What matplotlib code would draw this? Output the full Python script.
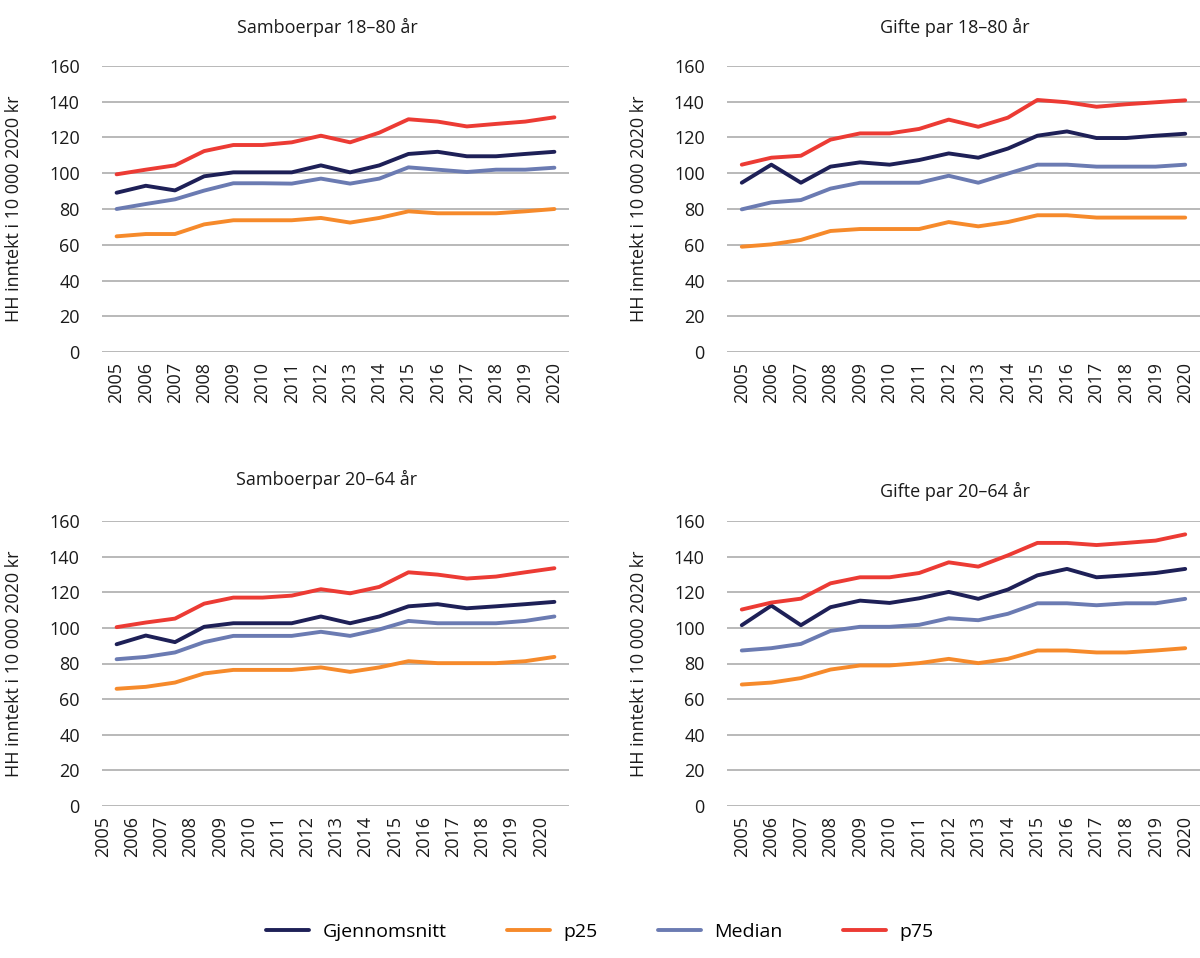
import matplotlib
matplotlib.use("Agg")
from matplotlib import pyplot as plt

years = list(range(2005, 2021))

# Samboerpar 18-80 år
sb1880_mean = [89.1, 93.0, 90.4, 98.3, 100.5, 100.5, 100.5, 104.4, 100.5, 104.4, 110.8, 112.0, 109.5, 109.5, 110.8, 112.0]
sb1880_p25 = [64.7, 66.0, 66.0, 71.4, 73.7, 73.7, 73.7, 75.0, 72.4, 75.0, 78.7, 77.6, 77.6, 77.6, 78.7, 80.0]
sb1880_median = [80.0, 82.8, 85.4, 90.3, 94.4, 94.4, 94.2, 97.0, 94.2, 97.0, 103.3, 102.0, 100.7, 102.0, 102.0, 103.1]
sb1880_p75 = [99.4, 102.0, 104.4, 112.4, 115.8, 115.8, 117.3, 121.0, 117.3, 122.7, 130.2, 128.9, 126.2, 127.6, 128.9, 131.3]

# Gifte par 18-80 år
gp1880_mean = [94.7, 104.8, 94.7, 103.7, 106.1, 104.8, 107.4, 111.1, 108.7, 113.8, 121.0, 123.4, 119.7, 119.7, 121.0, 122.1]
gp1880_p25 = [58.9, 60.2, 62.7, 67.7, 68.8, 68.8, 68.8, 72.7, 70.3, 72.7, 76.5, 76.5, 75.2, 75.2, 75.2, 75.2]
gp1880_median = [79.8, 83.7, 85.0, 91.4, 94.7, 94.7, 94.7, 98.6, 94.7, 99.8, 104.8, 104.8, 103.7, 103.7, 103.7, 104.8]
gp1880_p75 = [104.8, 108.7, 109.8, 118.8, 122.3, 122.3, 124.8, 130.0, 126.0, 131.1, 141.0, 139.7, 137.2, 138.6, 139.7, 140.8]

# Samboerpar 20-64 år
sb2064_mean = [90.8, 95.7, 92.0, 100.6, 102.6, 102.6, 102.6, 106.4, 102.6, 106.4, 112.1, 113.3, 111.0, 112.1, 113.3, 114.6]
sb2064_p25 = [65.8, 66.9, 69.3, 74.4, 76.4, 76.4, 76.4, 77.8, 75.3, 77.8, 81.3, 80.2, 80.2, 80.2, 81.3, 83.7]
sb2064_median = [82.4, 83.7, 86.2, 92.0, 95.5, 95.5, 95.5, 97.8, 95.5, 99.1, 103.9, 102.6, 102.6, 102.6, 103.9, 106.4]
sb2064_p75 = [100.4, 103.0, 105.2, 113.6, 117.0, 117.0, 118.1, 121.7, 119.4, 123.0, 131.2, 129.9, 127.7, 128.8, 131.2, 133.5]

# Gifte par 20-64 år
gp2064_mean = [101.5, 112.5, 101.5, 111.6, 115.3, 114.0, 116.6, 120.2, 116.3, 121.5, 129.5, 133.1, 128.4, 129.5, 130.8, 133.1]
gp2064_p25 = [68.2, 69.3, 71.8, 76.6, 78.9, 78.9, 80.2, 82.6, 80.2, 82.6, 87.3, 87.3, 86.2, 86.2, 87.3, 88.6]
gp2064_median = [87.3, 88.6, 91.0, 98.3, 100.6, 100.6, 101.7, 105.4, 104.3, 107.9, 113.8, 113.8, 112.7, 113.8, 113.8, 116.3]
gp2064_p75 = [110.3, 114.2, 116.4, 125.0, 128.4, 128.4, 130.8, 136.8, 134.4, 140.7, 147.7, 147.7, 146.5, 147.7, 149.0, 152.5]

series_names = ['Gjennomsnitt', 'p25', 'Median', 'p75']
colors = ['#1e2057', '#f68a2b', '#6b7bb2', '#ec3b34']

plt.rcParams['font.family'] = ['Open Sans', 'DejaVu Sans']

fig = plt.figure(figsize=(12, 9.58), dpi=100)
W, H = 1200, 958

# (title, data, axes box in px [x0, y0, x1, y1], title x, title baseline y, label shift)
panels = [
    ('Samboerpar 18–80 år', [sb1880_mean, sb1880_p25, sb1880_median, sb1880_p75],
     [102, 66, 569, 352], 327, 33, 0.0),
    ('Gifte par 18–80 år', [gp1880_mean, gp1880_p25, gp1880_median, gp1880_p75],
     [727, 66, 1200, 352], 955, 33, 0.0),
    ('Samboerpar 20–64 år', [sb2064_mean, sb2064_p25, sb2064_median, sb2064_p75],
     [102, 521, 569, 806], 327, 485, -0.47),
    ('Gifte par 20–64 år', [gp2064_mean, gp2064_p25, gp2064_median, gp2064_p75],
     [727, 521, 1200, 806], 955, 497, 0.0),
]

for title, data, box, tx, ty, shift in panels:
    x0, y0, x1, y1 = box
    ax = fig.add_axes([x0 / W, 1 - y1 / H, (x1 - x0) / W, (y1 - y0) / H])
    for vals, name, c in zip(data, series_names, colors):
        ax.plot(years, vals, color=c, lw=2.8, label=name, solid_capstyle='round')
    ax.set_ylim(0, 160)
    ax.set_yticks(range(0, 161, 20))
    ax.set_xlim(2004.5, 2020.5)
    ax.set_xticks([y + shift for y in years])
    ax.set_xticklabels([str(y) for y in years], rotation=90)
    ax.tick_params(length=0, labelsize=13, colors='#1a1a1a', pad=7)
    ax.tick_params(axis='y', pad=16)
    ax.grid(axis='y', color='#a6a6a6', lw=1.1)
    ax.grid(axis='x', visible=False)
    ax.set_axisbelow(True)
    for s in ax.spines.values():
        s.set_visible(False)
    ax.set_ylabel('HH inntekt i 10 000 2020 kr', fontsize=13, color='#1a1a1a')
    ax.yaxis.set_label_coords(-79 / (x1 - x0), 0.5)
    fig.text(tx / W, 1 - ty / H, title, ha='center', va='baseline',
             fontsize=13, color='#1a1a1a')

handles, labels = ax.get_legend_handles_labels()
fig.legend(handles, labels, loc='center', bbox_to_anchor=(0.5, 1 - 932 / H), ncol=4,
           frameon=False, fontsize=14, handlelength=2.2, columnspacing=3.1,
           handletextpad=0.7)

fig.savefig('out.png', dpi=100)
